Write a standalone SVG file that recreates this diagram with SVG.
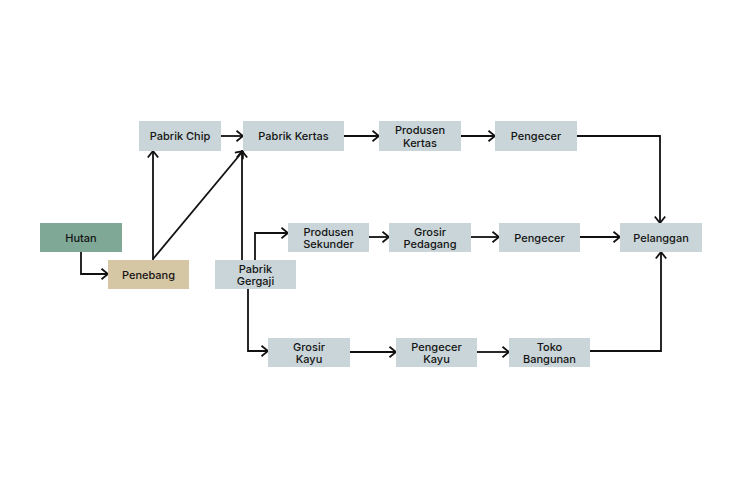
<svg xmlns="http://www.w3.org/2000/svg" width="750" height="489" viewBox="0 0 750 489">
<defs>
<style>
.n{fill:#c9d5d8}
.g{fill:#7fa897}
.t{fill:#d5c6a4}
text{font-family:Inter,"Noto Sans","Liberation Sans",sans-serif;font-size:11px;font-weight:500;fill:#141414;text-anchor:middle;dominant-baseline:central}
.c path{fill:none;stroke:#111;stroke-width:1.8;marker-end:url(#a)}
</style>
<marker id="a" markerUnits="userSpaceOnUse" viewBox="0 0 10 12" markerWidth="10" markerHeight="12" refX="9" refY="6" orient="auto">
<path d="M2.5,0.8 L9,6 L2.5,11.2" fill="none" stroke="#111" stroke-width="1.8"/>
</marker>
</defs>
<rect width="750" height="489" fill="#fff"/>
<g class="c">
<path d="M221,136 H243"/>
<path d="M81,252 V274 H108"/>
<path d="M153,260 V151"/>
<path d="M153,259 L243,151"/>
<path d="M242,260 V151"/>
<path d="M255,260 V233 H288"/>
<path d="M248,289 V351 H268"/>
<path d="M344,136 H379"/>
<path d="M461,136 H495"/>
<path d="M577,136 H660 V223"/>
<path d="M369,237 H389"/>
<path d="M471,237 H499"/>
<path d="M580,237 H620"/>
<path d="M350,352 H396"/>
<path d="M477,352 H509"/>
<path d="M590,351 H661 V252"/>
</g>
<g id="hutan"><rect class="g" x="40" y="223" width="82" height="29"/><text x="81" y="238">Hutan</text></g>
<g id="penebang"><rect class="t" x="108" y="260" width="81" height="29"/><text x="148.5" y="275">Penebang</text></g>
<g id="pabrik-chip"><rect class="n" x="139" y="121" width="82" height="30"/><text x="180" y="136">Pabrik Chip</text></g>
<g id="pabrik-kertas"><rect class="n" x="243" y="121" width="101" height="30"/><text x="293.5" y="136">Pabrik Kertas</text></g>
<g id="produsen-kertas"><rect class="n" x="379" y="121" width="82" height="30"/><text x="420" y="130">Produsen</text><text x="420" y="142.5">Kertas</text></g>
<g id="pengecer-1"><rect class="n" x="495" y="121" width="82" height="30"/><text x="536" y="136">Pengecer</text></g>
<g id="pabrik-gergaji"><rect class="n" x="215" y="260" width="81" height="29"/><text x="255.5" y="268.5">Pabrik</text><text x="255.5" y="281">Gergaji</text></g>
<g id="produsen-sekunder"><rect class="n" x="288" y="223" width="81" height="29"/><text x="328.5" y="231.5">Produsen</text><text x="328.5" y="244">Sekunder</text></g>
<g id="grosir-pedagang"><rect class="n" x="389" y="223" width="82" height="29"/><text x="430" y="231.5">Grosir</text><text x="430" y="244">Pedagang</text></g>
<g id="pengecer-2"><rect class="n" x="499" y="223" width="81" height="29"/><text x="539.5" y="238">Pengecer</text></g>
<g id="pelanggan"><rect class="n" x="620" y="223" width="82" height="29"/><text x="661" y="238">Pelanggan</text></g>
<g id="grosir-kayu"><rect class="n" x="268" y="338" width="82" height="29"/><text x="309" y="346.5">Grosir</text><text x="309" y="359">Kayu</text></g>
<g id="pengecer-kayu"><rect class="n" x="396" y="338" width="81" height="29"/><text x="436.5" y="346.5">Pengecer</text><text x="436.5" y="359">Kayu</text></g>
<g id="toko-bangunan"><rect class="n" x="509" y="338" width="81" height="29"/><text x="549.5" y="346.5">Toko</text><text x="549.5" y="359">Bangunan</text></g>
</svg>
